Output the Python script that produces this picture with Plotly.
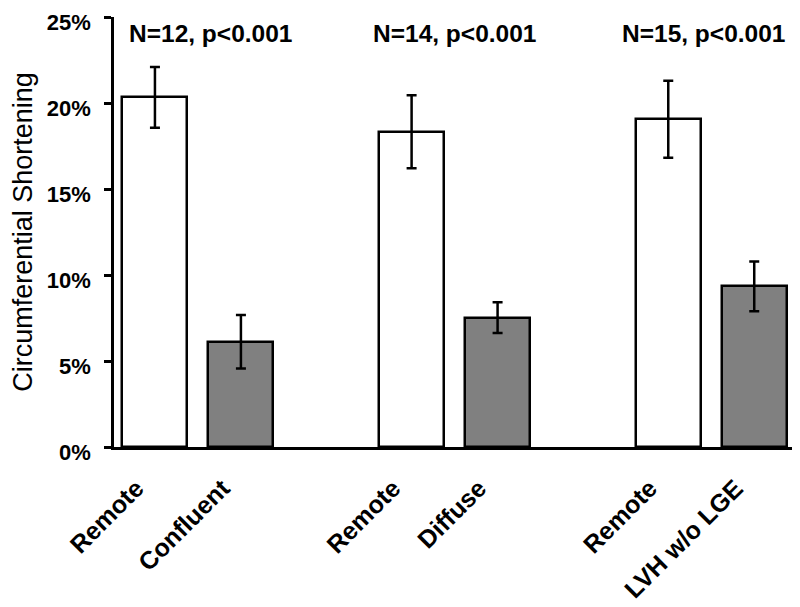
import plotly.graph_objects as go

# ---- data ----
groups = [0, 1, 2]
remote_labels = ["Remote", "Remote", "Remote"]
lesion_labels = ["Confluent", "Diffuse", "LVH w/o LGE"]
remote_vals = [0.2033, 0.1833, 0.1905]
remote_err = [0.0177, 0.0212, 0.0224]
lesion_vals = [0.0612, 0.0752, 0.0934]
lesion_err = [0.0155, 0.0089, 0.0145]
annot_texts = ["N=12, p<0.001", "N=14, p<0.001", "N=15, p<0.001"]
annot_x = [0.05, 1.0, 1.97]
y_ticks = [0, 0.05, 0.10, 0.15, 0.20, 0.25]
y_tick_labels = ["0%", "5%", "10%", "15%", "20%", "25%"]

# ---- layout helpers ----
OFF = 0.1675
W = 0.253
LABEL_SHIFT = -0.072
FONT = "Arial, 'Liberation Sans', sans-serif"

x_remote = [g - OFF for g in groups]
x_lesion = [g + OFF for g in groups]

fig = go.Figure()
fig.add_trace(go.Bar(
    x=x_remote, y=remote_vals, width=W,
    marker=dict(color="white", line=dict(color="black", width=2.5)),
    error_y=dict(type="data", array=remote_err, color="black", thickness=2.5, width=5),
    showlegend=False,
))
fig.add_trace(go.Bar(
    x=x_lesion, y=lesion_vals, width=W,
    marker=dict(color="#808080", line=dict(color="black", width=2.5)),
    error_y=dict(type="data", array=lesion_err, color="black", thickness=2.5, width=5),
    showlegend=False,
))

tickvals = []
ticktext = []
for xr, xl, rl, ll in zip(x_remote, x_lesion, remote_labels, lesion_labels):
    tickvals += [xr + LABEL_SHIFT, xl + LABEL_SHIFT]
    ticktext += [rl, ll]

for ax, t in zip(annot_x, annot_texts):
    fig.add_annotation(x=ax, y=0.2407, text="<b>%s</b>" % t, showarrow=False,
                       xref="x", yref="y", font=dict(family=FONT, size=24.5, color="black"))

fig.update_layout(
    width=792, height=599,
    margin=dict(l=106, r=2, t=9, b=160),
    paper_bgcolor="white", plot_bgcolor="white",
    bargap=0,
    xaxis=dict(
        automargin=False,
        range=[-0.327, 2.338],
        tickvals=tickvals,
        ticktext=["<b>%s</b>" % t for t in ticktext],
        tickangle=-45,
        tickfont=dict(family=FONT, size=25, color="black"),
        ticklabelstandoff=14,
        ticklabeloverflow="allow",
        showline=True, linecolor="black", linewidth=2.5,
        ticks="", showgrid=False, zeroline=False,
    ),
    yaxis=dict(
        automargin=False,
        range=[0, 0.25],
        tickvals=y_ticks,
        ticktext=["<b>%s</b>" % t for t in y_tick_labels],
        tickfont=dict(family=FONT, size=22, color="black"),
        ticklabelstandoff=9,
        ticklabelshift=5,
        ticklabeloverflow="allow",
        ticks="outside", ticklen=7, tickwidth=2.5, tickcolor="black",
        showline=True, linecolor="black", linewidth=2.5,
        showgrid=False, zeroline=False,
        title=dict(text="Circumferential Shortening",
                   font=dict(family=FONT, size=27, color="black"), standoff=14),
    ),
)

fig.write_html("out.html")
